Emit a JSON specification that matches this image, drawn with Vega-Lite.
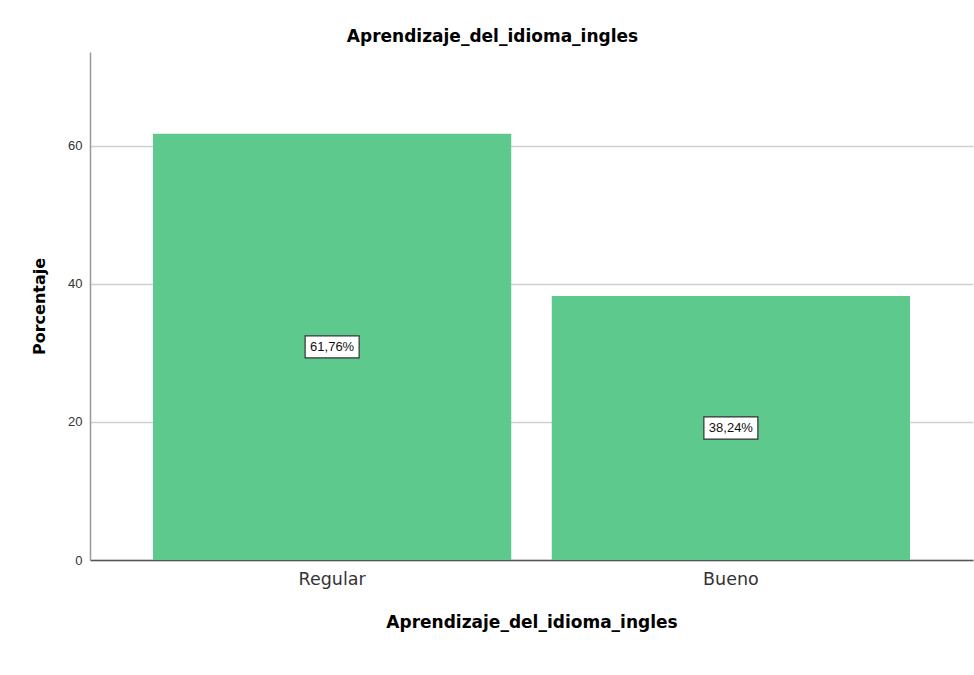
{
  "$schema": "https://vega.github.io/schema/vega-lite/v6.json",
  "autosize": {"type": "none"},
  "padding": {"left": 90, "top": 52, "right": 1, "bottom": 115},
  "width": 883,
  "height": 508,
  "background": "white",
  "config": {
    "font": "Liberation Sans",
    "view": {"stroke": null}
  },
  "title": {
    "text": "Aprendizaje_del_idioma_ingles",
    "font": "DejaVu Sans",
    "fontSize": 17,
    "fontWeight": "bold",
    "color": "#000000",
    "anchor": "middle",
    "baseline": "alphabetic",
    "offset": 10,
    "dy": 17,
    "dx": -39
  },
  "data": {
    "values": [
      {"categoria": "Regular", "porcentaje": 61.76, "etiqueta": "61,76%"},
      {"categoria": "Bueno", "porcentaje": 38.24, "etiqueta": "38,24%"}
    ]
  },
  "encoding": {
    "x": {
      "field": "categoria",
      "type": "nominal",
      "sort": ["Regular", "Bueno"],
      "scale": {"paddingInner": 0.1016, "paddingOuter": 0.158},
      "axis": {
        "title": "Aprendizaje_del_idioma_ingles",
        "titleFont": "DejaVu Sans",
        "titleFontSize": 17,
        "titleFontWeight": "bold",
        "titleColor": "#000000",
        "titleBaseline": "alphabetic",
        "titleY": 67,
        "labelAngle": 0,
        "labelFont": "DejaVu Sans",
        "labelFontSize": 17.5,
        "labelColor": "#333333",
        "labelBaseline": "alphabetic",
        "labelPadding": 24,
        "ticks": false,
        "tickSize": 0,
        "domainColor": "#555555",
        "domainWidth": 1.5
      }
    }
  },
  "layer": [
    {
      "mark": {"type": "bar", "color": "#5dc98c"},
      "encoding": {
        "y": {
          "field": "porcentaje",
          "type": "quantitative",
          "scale": {"domain": [0, 73.6], "nice": false},
          "axis": {
            "title": "Porcentaje",
            "titleFont": "DejaVu Sans",
            "titleFontSize": 16,
            "titleFontWeight": "bold",
            "titleColor": "#000000",
            "titleAngle": -90,
            "titleBaseline": "alphabetic",
            "titleX": -46,
            "titleY": 254,
            "values": [0, 20, 40, 60],
            "labelFontSize": 13,
            "labelColor": "#333333",
            "labelPadding": 8,
            "ticks": false,
            "tickSize": 0,
            "grid": true,
            "gridColor": "#d0d0d0",
            "gridWidth": 1.5,
            "domainColor": "#999999",
            "domainWidth": 1.5
          }
        }
      }
    },
    {
      "mark": {
        "type": "point",
        "shape": "M-1,-0.41L1,-0.41L1,0.41L-1,0.41Z",
        "size": 2916,
        "filled": true,
        "fill": "#ffffff",
        "stroke": "#333333",
        "strokeWidth": 1.2,
        "opacity": 1
      },
      "encoding": {
        "y": {"field": "porcentaje", "type": "quantitative", "scale": {"domain": [0, 147.2], "nice": false}, "axis": null}
      }
    },
    {
      "mark": {"type": "text", "fontSize": 13, "color": "#111111", "baseline": "middle", "align": "center"},
      "encoding": {
        "y": {"field": "porcentaje", "type": "quantitative", "scale": {"domain": [0, 147.2], "nice": false}, "axis": null},
        "text": {"field": "etiqueta"}
      }
    }
  ],
  "resolve": {"scale": {"y": "independent"}}
}
